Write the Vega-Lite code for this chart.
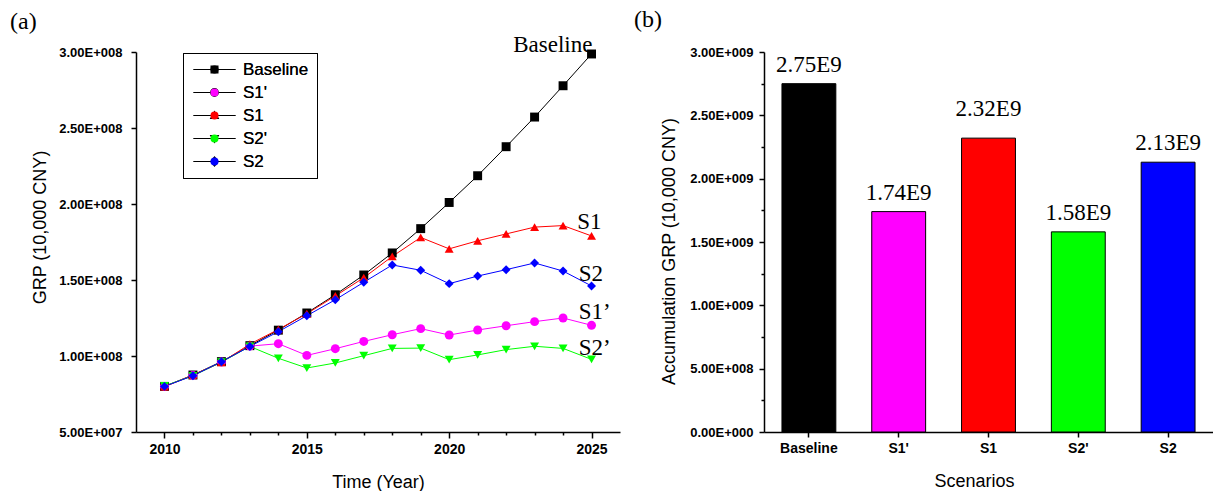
{
  "$schema": "https://vega.github.io/schema/vega-lite/v6.json",
  "background": "white",
  "padding": {"left": 10, "top": 8, "right": 0, "bottom": 0},
  "bounds": "flush",
  "spacing": 144,
  "config": {
    "view": {"stroke": null},
    "axis": {
      "domainColor": "black", "domainWidth": 1.5, "tickColor": "black", "tickWidth": 1.5,
      "labelColor": "black", "labelFont": "Liberation Sans", "labelFontWeight": "bold",
      "titleColor": "black", "titleFont": "Liberation Sans", "titleFontWeight": "normal", "titleFontSize": 18,
      "grid": false, "labelFlush": false, "labelOverlap": false
    },
    "legend": {"labelFontWeight": 400}
  },
  "resolve": {"scale": {"color": "independent", "shape": "independent", "x": "independent", "y": "independent"}, "legend": {"color": "independent", "shape": "independent"}},
  "hconcat": [
    {
      "width": 484,
      "height": 380,
      "title": {"text": "(a)", "anchor": "start", "frame": "group", "dx": -126, "font": "Liberation Serif", "fontSize": 24, "fontWeight": "normal", "color": "black", "baseline": "alphabetic", "offset": -19},
      "resolve": {"scale": {"shape": "independent"}, "axis": {"x": "independent"}},
      "data": {"values": [
        {"series": "Baseline", "year": 2010, "value": 80000000},
        {"series": "Baseline", "year": 2011, "value": 87500000},
        {"series": "Baseline", "year": 2012, "value": 96300000},
        {"series": "Baseline", "year": 2013, "value": 106800000},
        {"series": "Baseline", "year": 2014, "value": 117000000},
        {"series": "Baseline", "year": 2015, "value": 128300000},
        {"series": "Baseline", "year": 2016, "value": 140300000},
        {"series": "Baseline", "year": 2017, "value": 153300000},
        {"series": "Baseline", "year": 2018, "value": 167800000},
        {"series": "Baseline", "year": 2019, "value": 183800000},
        {"series": "Baseline", "year": 2020, "value": 201000000},
        {"series": "Baseline", "year": 2021, "value": 218600000},
        {"series": "Baseline", "year": 2022, "value": 237700000},
        {"series": "Baseline", "year": 2023, "value": 257200000},
        {"series": "Baseline", "year": 2024, "value": 277800000},
        {"series": "Baseline", "year": 2025, "value": 298700000},
        {"series": "S1'", "year": 2010, "value": 80000000},
        {"series": "S1'", "year": 2011, "value": 87200000},
        {"series": "S1'", "year": 2012, "value": 96000000},
        {"series": "S1'", "year": 2013, "value": 106500000},
        {"series": "S1'", "year": 2014, "value": 108100000},
        {"series": "S1'", "year": 2015, "value": 100400000},
        {"series": "S1'", "year": 2016, "value": 104800000},
        {"series": "S1'", "year": 2017, "value": 109600000},
        {"series": "S1'", "year": 2018, "value": 114000000},
        {"series": "S1'", "year": 2019, "value": 118000000},
        {"series": "S1'", "year": 2020, "value": 113800000},
        {"series": "S1'", "year": 2021, "value": 117100000},
        {"series": "S1'", "year": 2022, "value": 119900000},
        {"series": "S1'", "year": 2023, "value": 122600000},
        {"series": "S1'", "year": 2024, "value": 125000000},
        {"series": "S1'", "year": 2025, "value": 120200000},
        {"series": "S1", "year": 2010, "value": 79800000},
        {"series": "S1", "year": 2011, "value": 87500000},
        {"series": "S1", "year": 2012, "value": 95800000},
        {"series": "S1", "year": 2013, "value": 107800000},
        {"series": "S1", "year": 2014, "value": 117500000},
        {"series": "S1", "year": 2015, "value": 127800000},
        {"series": "S1", "year": 2016, "value": 139500000},
        {"series": "S1", "year": 2017, "value": 151500000},
        {"series": "S1", "year": 2018, "value": 165500000},
        {"series": "S1", "year": 2019, "value": 178000000},
        {"series": "S1", "year": 2020, "value": 170500000},
        {"series": "S1", "year": 2021, "value": 175800000},
        {"series": "S1", "year": 2022, "value": 180300000},
        {"series": "S1", "year": 2023, "value": 184800000},
        {"series": "S1", "year": 2024, "value": 185800000},
        {"series": "S1", "year": 2025, "value": 179000000},
        {"series": "S2'", "year": 2010, "value": 80300000},
        {"series": "S2'", "year": 2011, "value": 87000000},
        {"series": "S2'", "year": 2012, "value": 96000000},
        {"series": "S2'", "year": 2013, "value": 106300000},
        {"series": "S2'", "year": 2014, "value": 98500000},
        {"series": "S2'", "year": 2015, "value": 92100000},
        {"series": "S2'", "year": 2016, "value": 95400000},
        {"series": "S2'", "year": 2017, "value": 100200000},
        {"series": "S2'", "year": 2018, "value": 105000000},
        {"series": "S2'", "year": 2019, "value": 105200000},
        {"series": "S2'", "year": 2020, "value": 97600000},
        {"series": "S2'", "year": 2021, "value": 100700000},
        {"series": "S2'", "year": 2022, "value": 104200000},
        {"series": "S2'", "year": 2023, "value": 106400000},
        {"series": "S2'", "year": 2024, "value": 105000000},
        {"series": "S2'", "year": 2025, "value": 97800000},
        {"series": "S2", "year": 2010, "value": 80000000},
        {"series": "S2", "year": 2011, "value": 87000000},
        {"series": "S2", "year": 2012, "value": 96200000},
        {"series": "S2", "year": 2013, "value": 106300000},
        {"series": "S2", "year": 2014, "value": 116000000},
        {"series": "S2", "year": 2015, "value": 126500000},
        {"series": "S2", "year": 2016, "value": 137000000},
        {"series": "S2", "year": 2017, "value": 148500000},
        {"series": "S2", "year": 2018, "value": 159900000},
        {"series": "S2", "year": 2019, "value": 156400000},
        {"series": "S2", "year": 2020, "value": 147600000},
        {"series": "S2", "year": 2021, "value": 152600000},
        {"series": "S2", "year": 2022, "value": 156800000},
        {"series": "S2", "year": 2023, "value": 161200000},
        {"series": "S2", "year": 2024, "value": 155900000},
        {"series": "S2", "year": 2025, "value": 146100000}
      ]},
      "layer": [
        {
          "mark": {"type": "line", "strokeWidth": 1},
          "encoding": {
            "x": {"field": "year", "type": "quantitative", "scale": {"domain": [2009, 2026], "nice": false, "zero": false},
              "axis": {"orient": "bottom", "values": [2010, 2015, 2020, 2025], "format": "d", "labelOverlap": false,
                "tickSize": 6, "labelFontSize": 14, "labelPadding": 4,
                "title": "Time (Year)", "titleY": 55, "titleBaseline": "alphabetic"}},
            "y": {"field": "value", "type": "quantitative", "scale": {"domain": [50000000, 300000000], "nice": false, "zero": false},
              "axis": {"values": [50000000, 75000000, 100000000, 125000000, 150000000, 175000000, 200000000, 225000000, 250000000, 275000000, 300000000],
                "labelExpr": "datum.value % 50000000 === 0 ? replace(format(datum.value, '.2e'), 'e+', 'E+00') : ''", "labelOverlap": false,
                "tickSize": {"condition": {"test": "datum.value % 50000000 === 0", "value": 5}, "value": 3},
                "labelFontSize": 13, "labelPadding": 9,
                "title": "GRP (10,000 CNY)", "titleX": -96, "titleY": 175, "titleBaseline": "middle", "titleAngle": 270}},
            "color": {"field": "series", "type": "nominal", "scale": {"domain": ["Baseline", "S1'", "S1", "S2'", "S2"], "range": ["#000000", "#ff00ff", "#ff0000", "#00ff00", "#0000ff"]}, "legend": null}
          }
        },
        {
          "mark": {"type": "point", "filled": true, "size": 80, "opacity": 1},
          "encoding": {
            "x": {"field": "year", "type": "quantitative",
              "axis": {"orient": "bottom", "values": [2011, 2012, 2013, 2014, 2016, 2017, 2018, 2019, 2021, 2022, 2023, 2024],
                "tickSize": 3, "labels": false, "domain": false, "title": null}},
            "y": {"field": "value", "type": "quantitative"},
            "color": {"field": "series", "type": "nominal", "scale": {"domain": ["Baseline", "S1'", "S1", "S2'", "S2"], "range": ["#000000", "#ff00ff", "#ff0000", "#00ff00", "#0000ff"]}, "legend": null},
            "shape": {"field": "series", "type": "nominal", "scale": {"domain": ["Baseline", "S1'", "S1", "S2'", "S2"], "range": ["square", "circle", "triangle-up", "triangle-down", "diamond"]}, "legend": null}
          }
        },
        {
          "data": {"values": [
            {"label": "Baseline", "year": 2022.25, "value": 300200000},
            {"label": "S1", "year": 2024.5, "value": 183600000},
            {"label": "S2", "year": 2024.55, "value": 149500000},
            {"label": "S1’", "year": 2024.55, "value": 124300000},
            {"label": "S2’", "year": 2024.55, "value": 100700000}
          ]},
          "mark": {"type": "text", "align": "left", "baseline": "alphabetic", "font": "Liberation Serif", "fontSize": 23, "color": "black"},
          "encoding": {
            "x": {"field": "year", "type": "quantitative", "axis": null},
            "y": {"field": "value", "type": "quantitative"},
            "text": {"field": "label"}
          }
        },
        {
          "mark": {"type": "point", "filled": true, "opacity": 0, "size": 64},
          "encoding": {
            "x": {"field": "year", "type": "quantitative", "axis": null},
            "y": {"field": "value", "type": "quantitative"},
            "fill": {"field": "series", "type": "nominal", "scale": {"domain": ["Baseline", "S1'", "S1", "S2'", "S2"], "range": ["#000000", "#ff00ff", "#ff0000", "#00ff00", "#0000ff"]},
              "legend": {"orient": "none", "legendX": 47, "legendY": 1, "title": null, "strokeColor": "black", "padding": 8,
                "labelFont": "Liberation Sans", "labelFontSize": 17, "labelFontWeight": 400, "labelColor": "black", "rowPadding": 5, "symbolSize": 64,
                "symbolOpacity": 1, "symbolOffset": 15, "labelOffset": 20}},
            "shape": {"field": "series", "type": "nominal", "scale": {"domain": ["Baseline", "S1'", "S1", "S2'", "S2"],
                "range": ["M-5.3,-0.13H5.3V0.13H-5.3ZM-1,-1H1V1H-1Z", "M-5.3,-0.13H5.3V0.13H-5.3ZM1.1,0A1.1,1.1,0,1,1,-1.1,0A1.1,1.1,0,1,1,1.1,0Z", "M-5.3,-0.13H5.3V0.13H-5.3ZM0,-1.25L1.2,0.9L-1.2,0.9Z", "M-5.3,-0.13H5.3V0.13H-5.3ZM0,1.25L-1.2,-0.9L1.2,-0.9Z", "M-5.3,-0.13H5.3V0.13H-5.3ZM0,-1.35L1.1,0L0,1.35L-1.1,0Z"]},
              "legend": {"orient": "none", "legendX": 47, "legendY": 1, "title": null, "strokeColor": "black", "padding": 8,
                "labelFont": "Liberation Sans", "labelFontSize": 17, "labelFontWeight": 400, "labelColor": "black", "rowPadding": 5, "symbolSize": 64,
                "symbolOpacity": 1, "symbolOffset": 15, "labelOffset": 20}}
          }
        }
      ]
    },
    {
      "width": 449,
      "height": 380,
      "title": {"text": "(b)", "anchor": "start", "frame": "group", "dx": -130, "font": "Liberation Serif", "fontSize": 24, "fontWeight": "normal", "color": "black", "baseline": "alphabetic", "offset": -5},
      "data": {"values": [
        {"scenario": "Baseline", "total": 2750000000, "label": "2.75E9"},
        {"scenario": "S1'", "total": 1740000000, "label": "1.74E9"},
        {"scenario": "S1", "total": 2320000000, "label": "2.32E9"},
        {"scenario": "S2'", "total": 1580000000, "label": "1.58E9"},
        {"scenario": "S2", "total": 2130000000, "label": "2.13E9"}
      ]},
      "encoding": {
        "x": {"field": "scenario", "type": "nominal", "sort": null, "scale": {"paddingInner": 0.4, "paddingOuter": 0.2},
          "axis": {"labelAngle": 0, "tickSize": 5, "labelFontSize": 14, "labelPadding": 4,
            "title": "Scenarios", "titleX": 210, "titleY": 54, "titleBaseline": "alphabetic"}},
        "y": {"field": "total", "type": "quantitative", "scale": {"domain": [0, 3000000000], "nice": false},
          "axis": {"values": [0, 250000000, 500000000, 750000000, 1000000000, 1250000000, 1500000000, 1750000000, 2000000000, 2250000000, 2500000000, 2750000000, 3000000000],
            "labelExpr": "datum.value % 500000000 === 0 ? replace(format(datum.value, '.2e'), 'e+', 'E+00') : ''", "labelOverlap": false,
            "tickSize": {"condition": {"test": "datum.value % 500000000 === 0", "value": 5}, "value": 3},
            "labelFontSize": 13, "labelPadding": 6,
            "title": "Accumulation GRP (10,000 CNY)", "titleX": -95, "titleY": 199, "titleBaseline": "middle", "titleAngle": 270}}
      },
      "layer": [
        {
          "mark": {"type": "bar", "stroke": "black", "strokeWidth": 1},
          "encoding": {
            "color": {"field": "scenario", "type": "nominal", "scale": {"domain": ["Baseline", "S1'", "S1", "S2'", "S2"], "range": ["#000000", "#ff00ff", "#ff0000", "#00ff00", "#0000ff"]}, "legend": null}
          }
        },
        {
          "transform": [{"filter": "datum.scenario !== 'S1'"}],
          "mark": {"type": "text", "dy": -12, "baseline": "alphabetic", "font": "Liberation Serif", "fontSize": 23, "color": "black"},
          "encoding": {"text": {"field": "label"}}
        },
        {
          "transform": [{"filter": "datum.scenario === 'S1'"}],
          "mark": {"type": "text", "dy": -22, "baseline": "alphabetic", "font": "Liberation Serif", "fontSize": 23, "color": "black"},
          "encoding": {"text": {"field": "label"}}
        }
      ]
    }
  ]
}
